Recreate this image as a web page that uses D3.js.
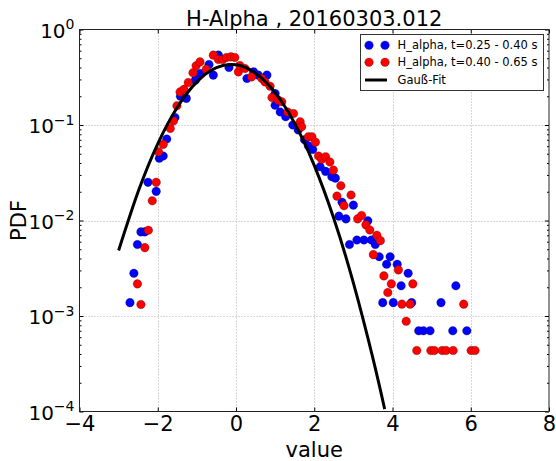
<!DOCTYPE html>
<html>
<head>
<meta charset="utf-8">
<script src="https://cdn.jsdelivr.net/npm/d3@7"></script>
<style>
    body { margin: 0; background: #fff; }
    text { font-family: "DejaVu Sans", sans-serif; }
</style>
</head>
<body>
<div id="chart"></div>
<script>
// Data
const blueX = [-2.71, -2.61, -2.52, -2.43, -2.33, -2.25, -2.04, -1.96, -1.86, -1.77,
    -1.56, -1.42, -1.27, -1.04, -0.92, -0.69, -0.58, -0.45, -0.18, 0.28,
    0.45, 0.57, 0.79, 1.0, 1.0, 1.13, 1.27, 1.45, 1.59, 1.75, 1.85, 1.96, 2.15,
    2.29, 2.45, 2.54, 2.63, 2.71, 2.81, 2.90, 3.0, 3.09, 3.27, 3.37,
    3.46, 3.56, 3.66, 3.75, 3.85, 3.94, 4.02, 4.12, 4.22, 4.40,
    4.49, 4.67, 4.79, 4.96, 5.24, 5.54, 5.62, 5.90];
const blueY = [1.38e-3, 2.8e-3, 5.6e-3, 7.6e-3, 7.6e-3, 0.0251, 0.0202, 0.0448, 0.0473, 0.0713,
    0.120, 0.20, 0.19, 0.295, 0.346, 0.43, 0.333, 0.54, 0.40, 0.307,
    0.36, 0.333, 0.333, 0.214, 0.161, 0.137, 0.122, 0.10, 0.0885, 0.07, 0.0606, 0.0555, 0.0366,
    0.0327, 0.0287, 0.0278, 0.0111, 0.0155, 0.0104, 5.6e-3, 0.0145, 6.25e-3, 6.25e-3, 9.95e-3,
    6.25e-3, 5.6e-3, 4.18e-3, 1.38e-3, 3.48e-3, 4.18e-3, 1.38e-3, 3.48e-3, 2.07e-3, 2.8e-3,
    1.38e-3, 7.0e-4, 7.0e-4, 7.0e-4, 1.38e-3, 7.0e-4, 2.07e-3, 7.0e-4];

const redX = [-2.52, -2.43, -2.33, -2.24, -2.14, -2.04, -1.98, -1.86, -1.68, -1.60,
    -1.51, -1.43, -1.33, -1.22, -1.10, -1.02, -0.92, -0.76, -0.58, -0.45,
    -0.34, -0.24, -0.13, -0.03, 0.06, 0.10, 0.23, 0.40, 0.66, 0.74,
    0.87, 0.92, 1.08, 1.17, 1.32, 1.47, 1.64, 1.68, 1.85, 1.94,
    2.03, 2.11, 2.19, 2.29, 2.40, 2.49, 2.58, 2.68, 2.76, 2.94,
    3.11, 3.21, 3.32, 3.42, 3.51, 3.60, 3.69, 3.78, 3.88, 3.97,
    4.15, 4.24, 4.35, 4.45, 4.52, 4.62, 4.98, 5.07, 5.27, 5.37,
    5.55, 5.82, 6.01, 6.11];
const redY = [2.17e-3, 1.32e-3, 5.2e-3, 7.9e-3, 0.0161, 0.0251, 0.0525, 0.0627, 0.092, 0.11,
    0.159, 0.222, 0.236, 0.279, 0.352, 0.417, 0.458, 0.384, 0.539, 0.485,
    0.485, 0.51, 0.517, 0.51, 0.36, 0.42, 0.39, 0.319, 0.307, 0.283,
    0.255, 0.194, 0.182, 0.175, 0.137, 0.132, 0.108, 0.0958, 0.0753, 0.0753,
    0.0662, 0.0473, 0.0437, 0.0465, 0.041, 0.0337, 0.018, 0.0231, 0.0143, 0.0185,
    0.0104, 0.0113, 9.0e-3, 7.96e-3, 4.39e-3, 7.0e-3, 6.15e-3, 2.63e-3, 1.76e-3, 2.17e-3,
    3.04e-3, 1.33e-3, 8.8e-4, 1.33e-3, 2.17e-3, 4.35e-4, 4.35e-4, 4.35e-4, 4.35e-4, 4.35e-4,
    4.35e-4, 1.33e-3, 4.35e-4, 4.35e-4];

// Gauss fit
const fitX = [-3, -2.5, -2, -1.5, -1, -0.5, 0, 0.5, 1, 1.5, 2, 2.5, 3, 3.5, 3.8];
const fitY = [4.85e-3, 0.0201, 0.0636, 0.1535, 0.283, 0.398, 0.4266, 0.349, 0.218, 0.104,
    0.0378, 0.0105, 2.22e-3, 3.6e-4, 1.06e-4];

const xTicks = [-4, -2, 0, 2, 4, 6, 8];
const yExps = [0, -1, -2, -3, -4];
const legendLabels = ["H_alpha, t=0.25 - 0.40 s", "H_alpha, t=0.40 - 0.65 s", "Gauß-Fit"];

const W = 556, H = 461;
const plot = {left: 79.5, right: 549, top: 29.5, bottom: 411.5};

const svg = d3.select("#chart").append("svg")
    .attr("width", W)
    .attr("height", H);

const x = d3.scaleLinear().domain([-4, 8]).range([plot.left, plot.right]);
const y = d3.scaleLog().domain([1e-4, 1]).range([plot.bottom, plot.top]);

svg.append("clipPath").attr("id", "clip")
    .append("rect")
    .attr("x", plot.left).attr("y", plot.top)
    .attr("width", plot.right - plot.left).attr("height", plot.bottom - plot.top);

// Grid
const grid = svg.append("g").attr("class", "grid")
    .attr("stroke", "#b0b0b0").attr("stroke-width", 1).attr("stroke-dasharray", "1,2");
grid.selectAll(".gx").data(xTicks.slice(1, -1)).enter().append("line")
    .attr("x1", d => Math.round(x(d)) + 0.5).attr("x2", d => Math.round(x(d)) + 0.5)
    .attr("y1", plot.top).attr("y2", plot.bottom);
grid.selectAll(".gy").data(yExps.slice(1, -1)).enter().append("line")
    .attr("y1", d => Math.round(y(Math.pow(10, d))) + 0.5).attr("y2", d => Math.round(y(Math.pow(10, d))) + 0.5)
    .attr("x1", plot.left).attr("x2", plot.right);

// Axes
const fmtX = d => d < 0 ? "\u2212" + Math.abs(d) : String(d);
const yTickVals = yExps.map(e => Math.pow(10, e));
let minor = [];
for (let e = -4; e < 0; e++) for (let k = 2; k <= 9; k++) minor.push(k * Math.pow(10, e));

const xAxis = svg.append("g")
    .attr("transform", `translate(0,${plot.bottom})`)
    .call(d3.axisBottom(x).tickValues(xTicks).tickSizeInner(-4).tickSizeOuter(0).tickPadding(5).tickFormat(fmtX));
xAxis.selectAll("text").attr("font-size", 21).attr("fill", "#000");

svg.append("g")
    .attr("transform", `translate(0,${plot.top})`)
    .call(d3.axisTop(x).tickValues(xTicks).tickSizeInner(-4).tickSizeOuter(0).tickFormat(""));

const yAxis = svg.append("g")
    .attr("transform", `translate(${plot.left},0)`)
    .call(d3.axisLeft(y).tickValues(yTickVals).tickSizeInner(-4).tickSizeOuter(0).tickPadding(5));
yAxis.selectAll("text").each(function(d, i) {
    const t = d3.select(this).text("").attr("dy", 7.5).attr("fill", "#000");
    t.append("tspan").attr("font-size", 20).text("10");
    const e = Math.round(Math.log10(d));
    t.append("tspan").attr("font-size", 14).attr("dy", -8.5)
        .text(e < 0 ? "\u2212" + Math.abs(e) : String(e));
});

svg.append("g")
    .attr("transform", `translate(${plot.left},0)`)
    .call(d3.axisLeft(y).tickValues(minor).tickSizeInner(-2).tickSizeOuter(0).tickFormat(""));
svg.append("g")
    .attr("transform", `translate(${plot.right},0)`)
    .call(d3.axisRight(y).tickValues(yTickVals).tickSizeInner(-4).tickSizeOuter(0).tickFormat(""));
svg.append("g")
    .attr("transform", `translate(${plot.right},0)`)
    .call(d3.axisRight(y).tickValues(minor).tickSizeInner(-2).tickSizeOuter(0).tickFormat(""));

svg.selectAll(".domain").remove();
svg.selectAll(".tick line").attr("stroke", "#000");

// Frame
svg.append("rect")
    .attr("x", plot.left).attr("y", plot.top)
    .attr("width", plot.right - plot.left).attr("height", plot.bottom - plot.top)
    .attr("fill", "none").attr("stroke", "#222").attr("stroke-width", 1);

// Points
const dots = svg.append("g").attr("clip-path", "url(#clip)");
function drawSeries(xs, ys, color) {
    dots.append("g").selectAll("circle")
        .data(xs.map((v, i) => [v, ys[i]]))
        .enter().append("circle")
        .attr("cx", d => x(d[0]))
        .attr("cy", d => y(d[1]))
        .attr("r", 4.3)
        .attr("fill", color)
        .attr("stroke", "#000")
        .attr("stroke-opacity", 0.5)
        .attr("stroke-width", 0.5);
}
drawSeries(blueX, blueY, "#0000ff");
drawSeries(redX, redY, "#ff0000");

// Fit line
const line = d3.line().x(d => x(d[0])).y(d => y(d[1])).curve(d3.curveNatural);
svg.append("path")
    .datum(fitX.map((v, i) => [v, fitY[i]]))
    .attr("clip-path", "url(#clip)")
    .attr("fill", "none")
    .attr("stroke", "#000")
    .attr("stroke-width", 3)
    .attr("d", line);

// Titles
svg.append("text")
    .attr("x", (plot.left + plot.right) / 2).attr("y", 26)
    .attr("text-anchor", "middle").attr("font-size", 21)
    .text("H-Alpha , 20160303.012");
svg.append("text")
    .attr("x", (plot.left + plot.right) / 2).attr("y", 457)
    .attr("text-anchor", "middle").attr("font-size", 21)
    .text("value");
svg.append("text")
    .attr("transform", `translate(26,${(plot.top + plot.bottom) / 2}) rotate(-90)`)
    .attr("text-anchor", "middle").attr("font-size", 21)
    .text("PDF");

// Legend
const legend = svg.append("g").attr("class", "legend");
legend.append("rect")
    .attr("x", 360.5).attr("y", 34.5).attr("width", 183).attr("height", 56)
    .attr("fill", "#fff").attr("stroke", "#333").attr("stroke-width", 1);
const rows = [45.3, 62.3, 80];
[["#0000ff"], ["#ff0000"]].forEach((c, i) => {
    [369, 385].forEach(cx => {
        legend.append("circle").attr("cx", cx).attr("cy", rows[i]).attr("r", 4.3)
            .attr("fill", c[0]).attr("stroke", "#000").attr("stroke-opacity", 0.5).attr("stroke-width", 0.5);
    });
});
legend.append("line").attr("x1", 365).attr("x2", 387).attr("y1", rows[2]).attr("y2", rows[2])
    .attr("stroke", "#000").attr("stroke-width", 3);
legend.selectAll(".lt").data(legendLabels).enter().append("text")
    .attr("x", 397.5).attr("y", (d, i) => rows[i]).attr("dy", "0.35em")
    .attr("font-size", 11.5)
    .text(d => d);
</script>
</body>
</html>
